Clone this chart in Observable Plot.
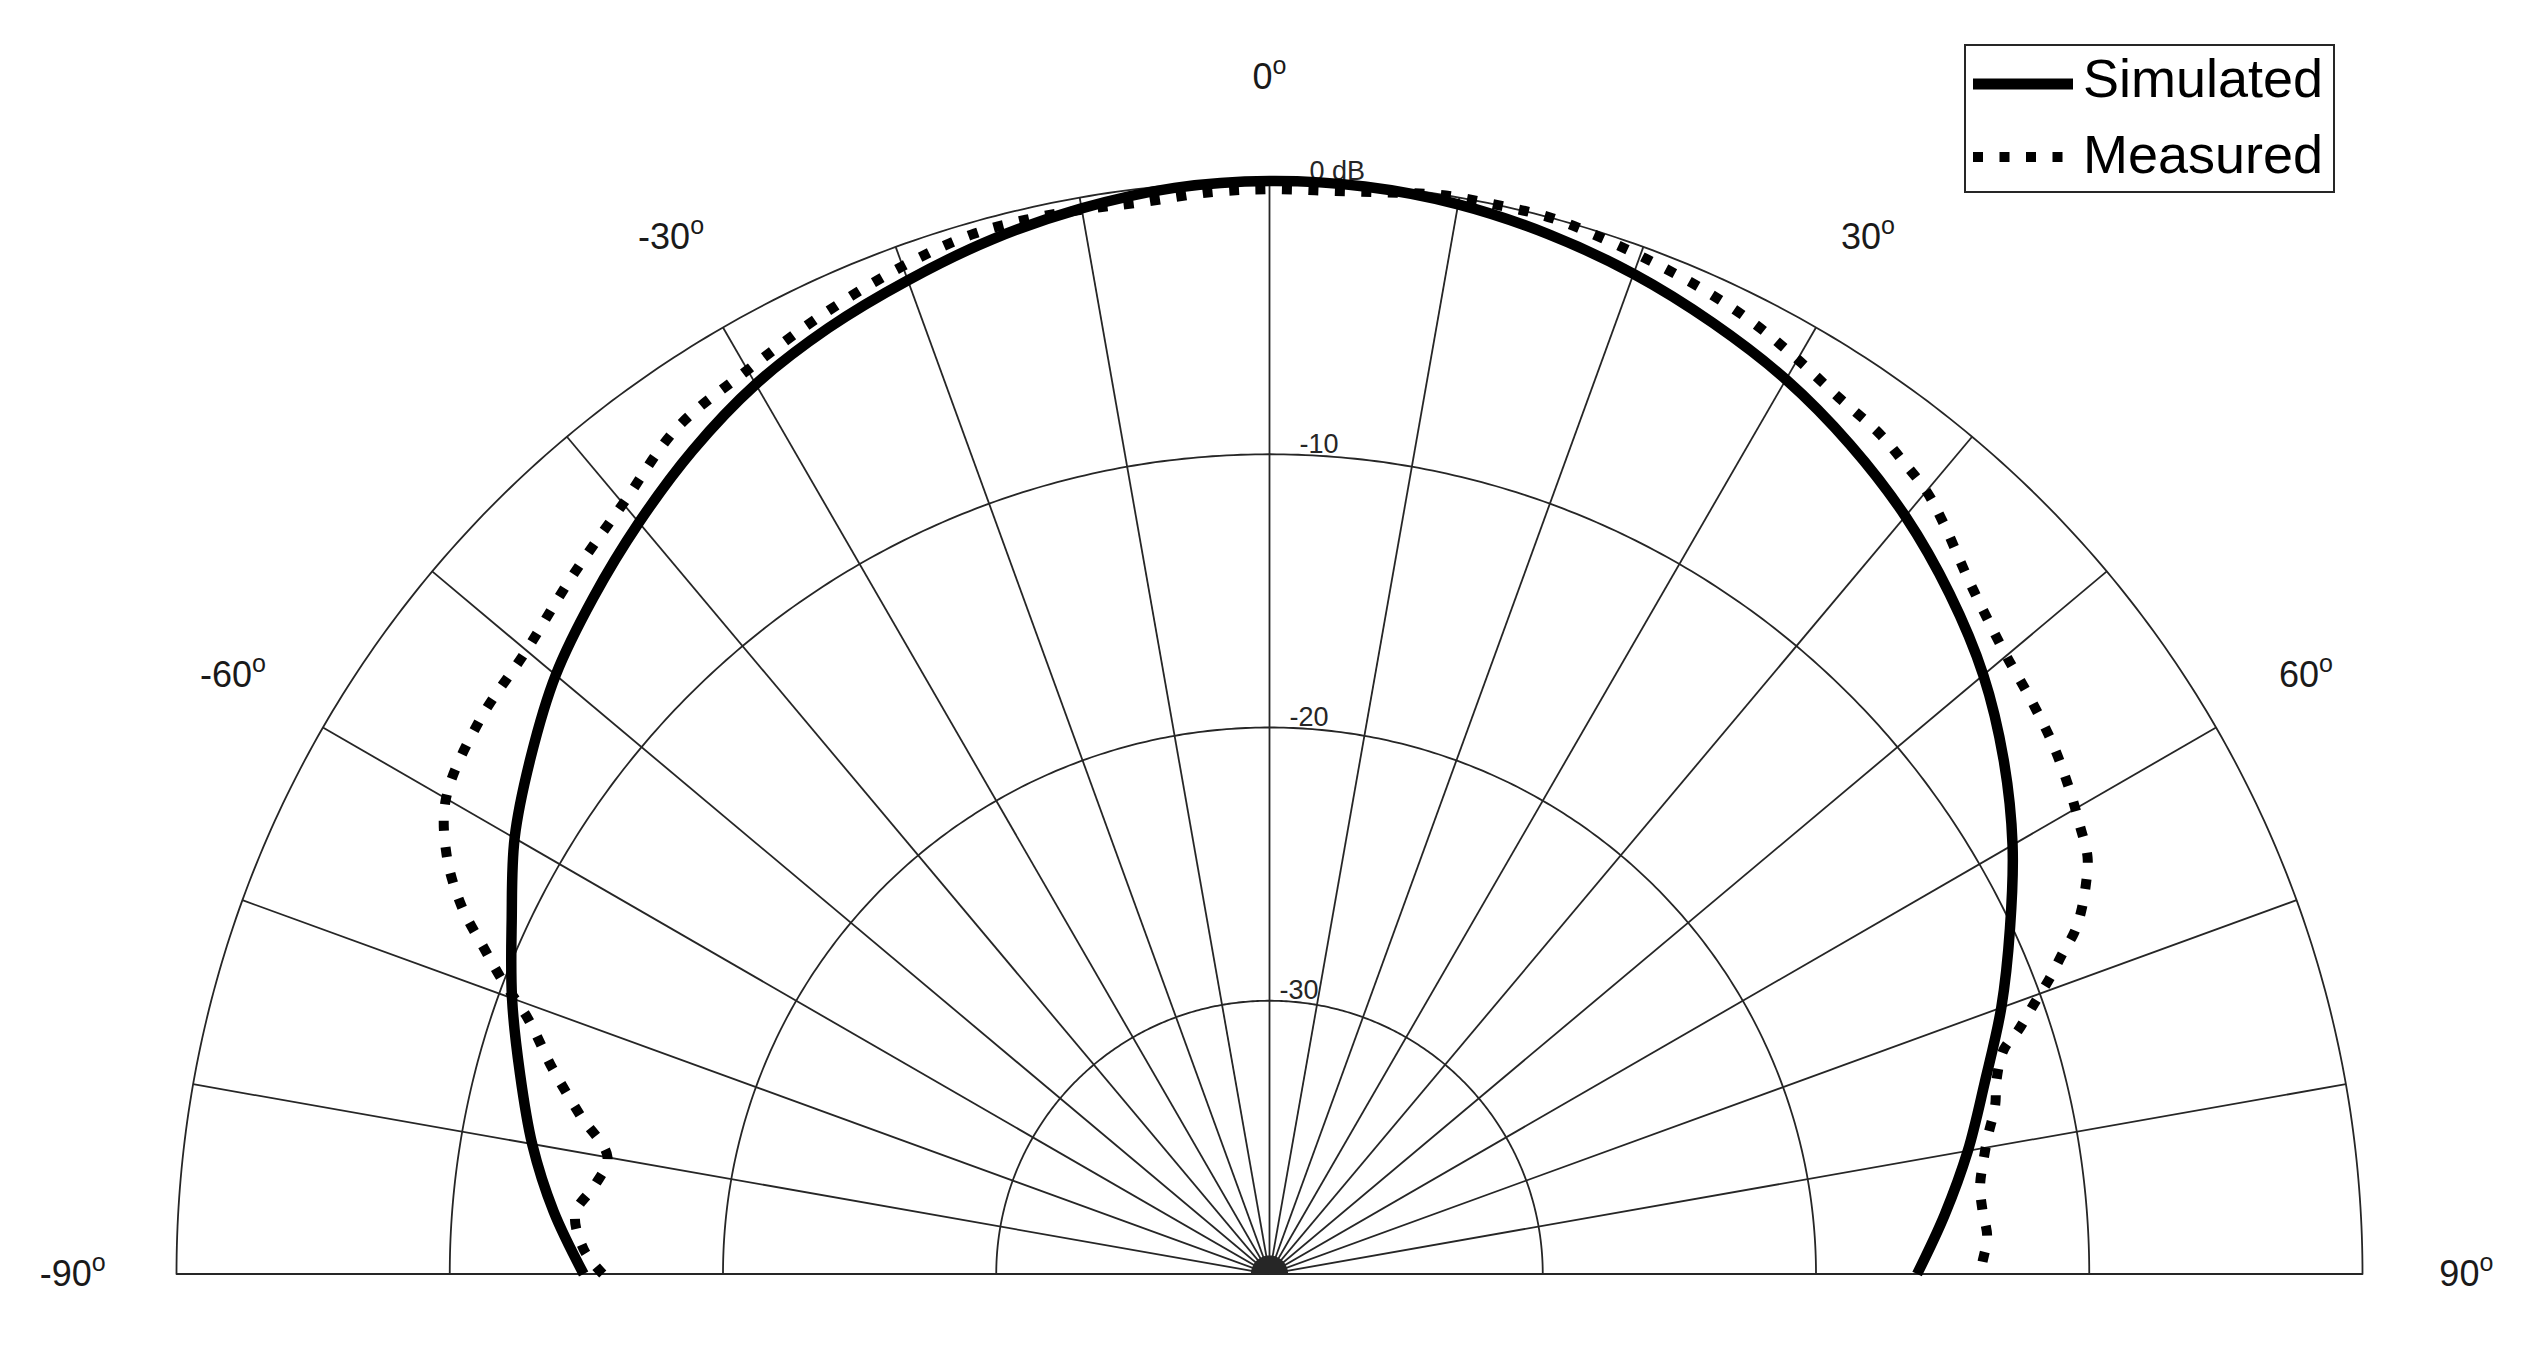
<!DOCTYPE html>
<html>
<head>
<meta charset="utf-8">
<script src="https://cdn.jsdelivr.net/npm/d3@7"></script>
<script src="https://cdn.jsdelivr.net/npm/@observablehq/plot@0.6"></script>
<style>
  body { margin: 0; background: #fff; }
  #wrap { position: relative; width: 2544px; height: 1347px; overflow: hidden; background: #fff; }
  #wrap > svg { position: absolute; left: 0; top: 0; }
  #legend { position: absolute; left: 1964px; top: 44px; width: 371px; height: 149px; box-sizing: border-box;
            border: 2px solid #262626; background: #fff; font-family: "Liberation Sans", Arial, sans-serif; }
  #legend svg { position: absolute; left: 0; top: 0; }
</style>
</head>
<body>
<div id="wrap"></div>
<script>
// ---------- data (angle in degrees, level in dB) ----------
const simAngle = [-90,-85,-80,-75,-70,-65,-60,-55,-50,-45,-40,-35,-30,-25,-20,-15,-10,-5,0,
                  5,10,15,20,25,30,35,40,45,50,55,60,65,70,75,80,85,90];
const simDb    = [-14.9,-13.7,-12.6,-11.6,-10.5,-9.4,-8.1,-7.0,-5.9,-5.0,-4.1,-3.2,-2.4,-1.8,-1.3,-0.8,-0.4,-0.1,0,
                  -0.05,-0.25,-0.6,-1.05,-1.6,-2.2,-2.95,-3.8,-4.8,-5.9,-7.2,-8.6,-10.1,-11.5,-12.9,-14.05,-15.2,-16.3];

const measAngle = [-90,-88,-85,-82.5,-80,-77,-74,-71,-69,-67.5,-65.5,-63,-60,-55,-50,-45,-40,-35,-30,-25,-20,-16,-13,-10,-7,-3,0,
                   3,6,9,12,15,18,21,24,27,30,33,36,38,40,42,45,48,50,53,56,59,61,63,64.5,66,67,68,69.3,70.5,72,73,75,77,79,81,83,85,87,89,90];
const measDb    = [-15.6,-14.9,-14.5,-15.1,-15.4,-14.1,-12.7,-11.3,-9.9,-8.9,-7.5,-6.2,-5.2,-4.7,-4.5,-3.9,-3.2,-2.2,-1.8,-1.27,-0.75,-0.43,-0.4,-0.45,-0.5,-0.35,-0.3,
                   -0.3,-0.2,-0.02,0,0,-0.2,-0.42,-0.65,-0.95,-1.35,-1.75,-2.0,-2.3,-2.6,-3.1,-3.9,-4.5,-4.8,-5.1,-5.4,-5.8,-6.1,-6.4,-6.9,-7.5,-8.0,-8.7,-9.5,-10.3,-11.2,-11.9,-12.45,-12.75,-13.2,-13.55,-13.8,-13.8,-13.7,-13.9,-14.0];

const ringDb     = [0, -10, -20, -30];
const ringLabel  = ["0 dB", "-10", "-20", "-30"];
const spokeAngle = [-90,-80,-70,-60,-50,-40,-30,-20,-10,0,10,20,30,40,50,60,70,80,90];
const angleTick  = [-90, -60, -30, 0, 30, 60, 90];
const angleLabel = ["-90", "-60", "-30", "0", "30", "60", "90"];
const seriesName = ["Simulated", "Measured"];
const dbMin = -40, dbMax = 0;

// ---------- polar helpers ----------
const rn  = db => (db - dbMin) / (dbMax - dbMin);
const rad = a => a * Math.PI / 180;
const px  = (a, r) => r * Math.sin(rad(a));
const py  = (a, r) => r * Math.cos(rad(a));

const sim  = simAngle.map((a, i) => ({a, r: rn(simDb[i])}));
const meas = measAngle.map((a, i) => ({a, r: rn(measDb[i])}));
const ringPts = ringDb.flatMap(db => d3.range(0, 361).map(k => ({ring: db, a: -90 + k * 0.5, r: rn(db)})));
// small filled hub where the spokes converge
const hubR = 0.017;
const hubPts = d3.range(0, 37).map(k => ({a: -90 + k * 5, r: hubR}));

const cx = 1269, cy = 1273.5, R = 1093;
const grid = "#262626";
const font = "'Liberation Sans', Arial, Helvetica, sans-serif";

const chart = Plot.plot({
  width: 2544, height: 1347, margin: 0,
  x: {domain: [-1, 1], range: [cx - R, cx + R], axis: null},
  y: {domain: [0, 1], range: [cy, cy - R], axis: null},
  style: {background: "white", fontFamily: font},
  marks: [
    Plot.line(ringPts, {x: d => px(d.a, d.r), y: d => py(d.a, d.r), z: "ring", stroke: grid, strokeWidth: 1.8}),
    Plot.link(spokeAngle, {x1: () => 0, y1: () => 0, x2: a => px(a, 1), y2: a => py(a, 1), stroke: grid, strokeWidth: 1.8}),
    Plot.line(hubPts, {x: d => px(d.a, d.r), y: d => py(d.a, d.r), fill: grid, stroke: "none"}),
    Plot.text(ringDb, {x: db => px(2.1, rn(db)), y: db => py(2.1, rn(db)), text: (d, i) => ringLabel[i],
      textAnchor: "start", lineAnchor: "bottom", dy: -2, fontSize: 27, fill: grid, fontFamily: font}),
    Plot.line(sim, {x: d => px(d.a, d.r), y: d => py(d.a, d.r), stroke: "black", strokeWidth: 10.5,
      curve: "catmull-rom", strokeLinecap: "butt"}),
    Plot.line(meas, {x: d => px(d.a, d.r), y: d => py(d.a, d.r), stroke: "black", strokeWidth: 10,
      strokeDasharray: "10,16.5", curve: "catmull-rom", strokeLinecap: "butt"}),
    Plot.text(angleTick, {x: a => px(a, 1.095), y: a => py(a, 1.095), text: (d, i) => angleLabel[i],
      fontSize: 36, fill: "#1a1a1a", fontFamily: font})
  ]
});

const wrap = document.getElementById("wrap");
wrap.appendChild(chart);

// superscript "o" after each angle label (the 36px texts)
chart.querySelectorAll("text").forEach(t => {
  if (getComputedStyle(t).fontSize === "36px" && angleLabel.includes(t.textContent)) {
    const ts = document.createElementNS("http://www.w3.org/2000/svg", "tspan");
    ts.setAttribute("dy", "-15");
    ts.setAttribute("font-size", "25");
    ts.textContent = "o";
    t.appendChild(ts);
  }
});

// legend
const ff = font.replace(/'/g, "&quot;");
const lg = document.createElement("div");
lg.id = "legend";
lg.innerHTML = `<svg width="367" height="145" xmlns="http://www.w3.org/2000/svg">
  <line x1="7" x2="107" y1="38" y2="38" stroke="black" stroke-width="11"/>
  <line x1="7" x2="107" y1="111" y2="111" stroke="black" stroke-width="10" stroke-dasharray="10,16.5"/>
  <text x="117" y="51" font-size="54" font-family="${ff}" fill="#000">${seriesName[0]}</text>
  <text x="117" y="127" font-size="54" font-family="${ff}" fill="#000">${seriesName[1]}</text>
</svg>`;
wrap.appendChild(lg);
</script>
</body>
</html>
